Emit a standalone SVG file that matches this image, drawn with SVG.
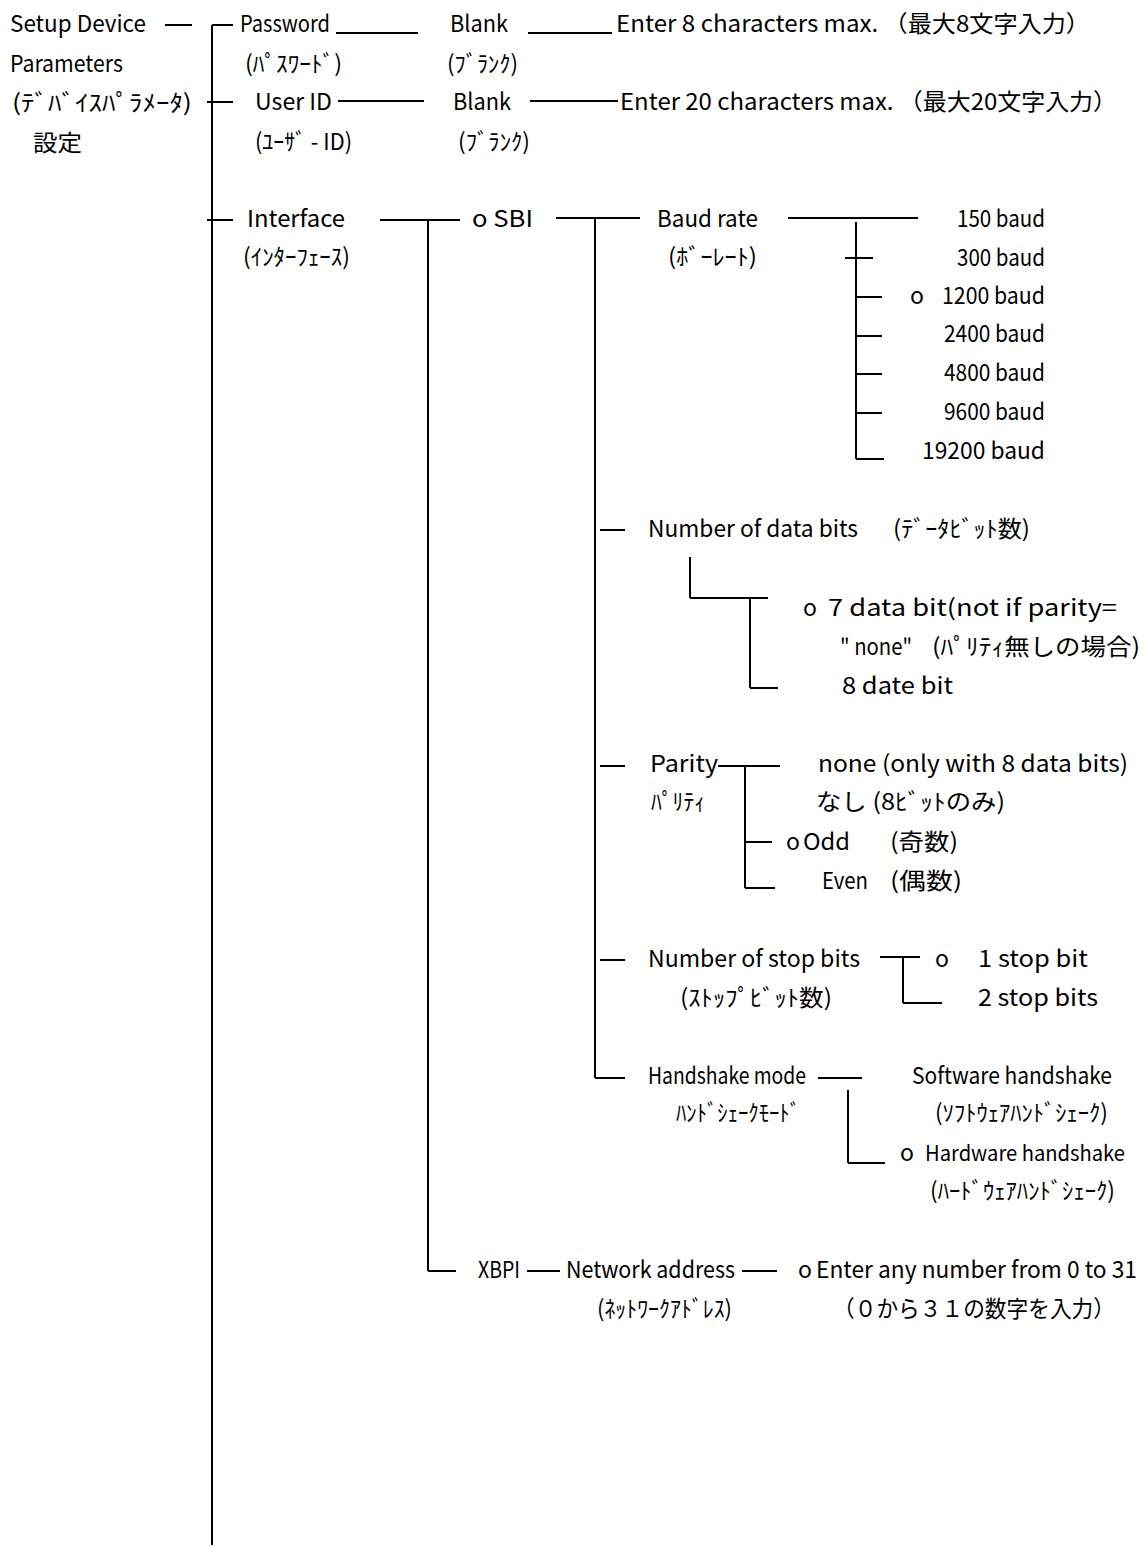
<svg xmlns="http://www.w3.org/2000/svg" width="1147" height="1546" viewBox="0 0 1147 1546">
<style>
text{font-family:"Noto Sans CJK JP","Noto Sans",sans-serif;font-size:23px;fill:#000;}
.c line{stroke:#000;stroke-width:2;fill:none;}
</style>
<rect width="1147" height="1546" fill="#fff"/>
<g id="connectors" class="c">
<line x1="212" y1="25" x2="212" y2="1545"/>
<line x1="165" y1="25" x2="192" y2="25"/>
<line x1="212" y1="25" x2="233" y2="25"/>
<line x1="336" y1="33" x2="418" y2="33"/>
<line x1="528" y1="33" x2="612" y2="33"/>
<line x1="207" y1="102" x2="233" y2="102"/>
<line x1="338" y1="101" x2="424" y2="101"/>
<line x1="530" y1="101" x2="618" y2="101"/>
<line x1="207" y1="220" x2="233" y2="220"/>
<line x1="380" y1="220" x2="460" y2="220"/>
<line x1="428" y1="220" x2="428" y2="1271"/>
<line x1="428" y1="1271" x2="456" y2="1271"/>
<line x1="556" y1="218" x2="640" y2="218"/>
<line x1="595" y1="218" x2="595" y2="1078"/>
<line x1="788" y1="218" x2="918" y2="218"/>
<line x1="856" y1="222" x2="856" y2="459"/>
<line x1="845" y1="258" x2="873" y2="258"/>
<line x1="856" y1="297" x2="882" y2="297"/>
<line x1="856" y1="336" x2="882" y2="336"/>
<line x1="856" y1="374" x2="882" y2="374"/>
<line x1="856" y1="413" x2="882" y2="413"/>
<line x1="856" y1="459" x2="884" y2="459"/>
<line x1="600" y1="530" x2="625" y2="530"/>
<line x1="690" y1="557" x2="690" y2="598"/>
<line x1="690" y1="598" x2="768" y2="598"/>
<line x1="750" y1="598" x2="750" y2="688"/>
<line x1="750" y1="688" x2="778" y2="688"/>
<line x1="600" y1="766" x2="625" y2="766"/>
<line x1="718" y1="766" x2="780" y2="766"/>
<line x1="745" y1="766" x2="745" y2="888"/>
<line x1="745" y1="842" x2="772" y2="842"/>
<line x1="745" y1="888" x2="775" y2="888"/>
<line x1="600" y1="960" x2="625" y2="960"/>
<line x1="880" y1="957" x2="920" y2="957"/>
<line x1="903" y1="957" x2="903" y2="1003"/>
<line x1="903" y1="1003" x2="942" y2="1003"/>
<line x1="595" y1="1078" x2="625" y2="1078"/>
<line x1="818" y1="1078" x2="862" y2="1078"/>
<line x1="848" y1="1090" x2="848" y2="1163"/>
<line x1="848" y1="1163" x2="885" y2="1163"/>
<line x1="527" y1="1271" x2="560" y2="1271"/>
<line x1="742" y1="1271" x2="777" y2="1271"/>
</g>
<g id="n-setup">
<text x="10" y="32" textLength="136" lengthAdjust="spacingAndGlyphs">Setup Device</text>
<text x="10" y="72" textLength="113" lengthAdjust="spacingAndGlyphs">Parameters</text>
<text x="12" y="111" textLength="180" lengthAdjust="spacingAndGlyphs">(ﾃﾞﾊﾞｲｽﾊﾟﾗﾒｰﾀ)</text>
<text x="33" y="151" textLength="49" lengthAdjust="spacingAndGlyphs">設定</text>
</g>
<g id="n-password">
<text x="240" y="32" textLength="90" lengthAdjust="spacingAndGlyphs">Password</text>
<text x="245" y="72" textLength="97" lengthAdjust="spacingAndGlyphs">(ﾊﾟｽﾜｰﾄﾞ)</text>
</g>
<g id="n-pw-blank">
<text x="450" y="32" textLength="58" lengthAdjust="spacingAndGlyphs">Blank</text>
<text x="447" y="72" textLength="71" lengthAdjust="spacingAndGlyphs">(ﾌﾞﾗﾝｸ)</text>
</g>
<g id="n-pw-enter">
<text x="616" y="32" textLength="474" lengthAdjust="spacingAndGlyphs">Enter 8  characters max. （最大8文字入力）</text>
</g>
<g id="n-userid">
<text x="255" y="110" textLength="77" lengthAdjust="spacingAndGlyphs">User ID</text>
<text x="255" y="150" textLength="97" lengthAdjust="spacingAndGlyphs">(ﾕｰｻﾞ - ID)</text>
</g>
<g id="n-uid-blank">
<text x="453" y="110" textLength="58" lengthAdjust="spacingAndGlyphs">Blank</text>
<text x="458" y="150" textLength="72" lengthAdjust="spacingAndGlyphs">(ﾌﾞﾗﾝｸ)</text>
</g>
<g id="n-uid-enter">
<text x="620" y="110" textLength="497" lengthAdjust="spacingAndGlyphs">Enter 20  characters max. （最大20文字入力）</text>
</g>
<g id="n-interface">
<text x="247" y="227" textLength="98" lengthAdjust="spacingAndGlyphs">Interface</text>
<text x="243" y="265" textLength="107" lengthAdjust="spacingAndGlyphs">(ｲﾝﾀｰﾌｪｰｽ)</text>
</g>
<g id="n-sbi">
<text x="472" y="227" textLength="61" lengthAdjust="spacingAndGlyphs">o  SBI</text>
</g>
<g id="n-baud">
<text x="657" y="227" textLength="101" lengthAdjust="spacingAndGlyphs">Baud rate</text>
<text x="668" y="265" textLength="89" lengthAdjust="spacingAndGlyphs">(ﾎﾞｰﾚｰﾄ)</text>
</g>
<g id="n-b150"><text x="957" y="227" textLength="88" lengthAdjust="spacingAndGlyphs">150 baud</text></g>
<g id="n-b300"><text x="957" y="266" textLength="88" lengthAdjust="spacingAndGlyphs">300 baud</text></g>
<g id="n-b1200"><text x="910" y="304" textLength="14" lengthAdjust="spacingAndGlyphs">o</text><text x="942" y="304" textLength="103" lengthAdjust="spacingAndGlyphs">1200 baud</text></g>
<g id="n-b2400"><text x="944" y="342" textLength="101" lengthAdjust="spacingAndGlyphs">2400 baud</text></g>
<g id="n-b4800"><text x="944" y="381" textLength="101" lengthAdjust="spacingAndGlyphs">4800 baud</text></g>
<g id="n-b9600"><text x="944" y="420" textLength="101" lengthAdjust="spacingAndGlyphs">9600 baud</text></g>
<g id="n-b19200"><text x="922" y="459" textLength="123" lengthAdjust="spacingAndGlyphs">19200 baud</text></g>
<g id="n-databits">
<text x="648" y="537" textLength="210" lengthAdjust="spacingAndGlyphs">Number of data bits</text>
<text x="893" y="537" textLength="137" lengthAdjust="spacingAndGlyphs">(ﾃﾞｰﾀﾋﾞｯﾄ数)</text>
</g>
<g id="n-7bit">
<text x="803" y="616" textLength="14" lengthAdjust="spacingAndGlyphs">o</text>
<text x="828" y="616" textLength="289" lengthAdjust="spacingAndGlyphs">7 data bit(not if parity=</text>
<text x="840" y="655" textLength="72" lengthAdjust="spacingAndGlyphs">" none"</text>
<text x="932" y="655" textLength="208" lengthAdjust="spacingAndGlyphs">(ﾊﾟﾘﾃｨ無しの場合)</text>
</g>
<g id="n-8bit">
<text x="842" y="694" textLength="111" lengthAdjust="spacingAndGlyphs">8 date bit</text>
</g>
<g id="n-parity">
<text x="650" y="772" textLength="68" lengthAdjust="spacingAndGlyphs">Parity</text>
<text x="651" y="810" textLength="54" lengthAdjust="spacingAndGlyphs">ﾊﾟﾘﾃｨ</text>
</g>
<g id="n-p-none">
<text x="818" y="772" textLength="310" lengthAdjust="spacingAndGlyphs">none (only with 8 data bits)</text>
<text x="816" y="810" textLength="189" lengthAdjust="spacingAndGlyphs">なし (8ﾋﾞｯﾄのみ)</text>
</g>
<g id="n-p-odd">
<text x="786" y="850" textLength="14" lengthAdjust="spacingAndGlyphs">o</text>
<text x="803" y="850" textLength="47" lengthAdjust="spacingAndGlyphs">Odd</text>
<text x="890" y="850" textLength="68" lengthAdjust="spacingAndGlyphs">(奇数)</text>
</g>
<g id="n-p-even">
<text x="822" y="889" textLength="46" lengthAdjust="spacingAndGlyphs">Even</text>
<text x="890" y="889" textLength="72" lengthAdjust="spacingAndGlyphs">(偶数)</text>
</g>
<g id="n-stopbits">
<text x="648" y="967" textLength="212" lengthAdjust="spacingAndGlyphs">Number of stop bits</text>
<text x="680" y="1006" textLength="152" lengthAdjust="spacingAndGlyphs">(ｽﾄｯﾌﾟﾋﾞｯﾄ数)</text>
</g>
<g id="n-1stop">
<text x="935" y="967" textLength="14" lengthAdjust="spacingAndGlyphs">o</text>
<text x="978" y="967" textLength="110" lengthAdjust="spacingAndGlyphs">1 stop bit</text>
</g>
<g id="n-2stop">
<text x="978" y="1006" textLength="120" lengthAdjust="spacingAndGlyphs">2 stop bits</text>
</g>
<g id="n-handshake">
<text x="648" y="1084" textLength="158" lengthAdjust="spacingAndGlyphs">Handshake mode</text>
<text x="676" y="1121" textLength="124" lengthAdjust="spacingAndGlyphs">ﾊﾝﾄﾞｼｪｰｸﾓｰﾄﾞ</text>
</g>
<g id="n-software">
<text x="912" y="1084" textLength="200" lengthAdjust="spacingAndGlyphs">Software handshake</text>
<text x="935" y="1121" textLength="173" lengthAdjust="spacingAndGlyphs">(ｿﾌﾄｳｪｱﾊﾝﾄﾞｼｪｰｸ)</text>
</g>
<g id="n-hardware">
<text x="900" y="1161" textLength="14" lengthAdjust="spacingAndGlyphs">o</text>
<text x="925" y="1161" style="font-size:21px" textLength="200" lengthAdjust="spacingAndGlyphs">Hardware handshake</text>
<text x="930" y="1199" textLength="185" lengthAdjust="spacingAndGlyphs">(ﾊｰﾄﾞｳｪｱﾊﾝﾄﾞｼｪｰｸ)</text>
</g>
<g id="n-xbpi">
<text x="478" y="1278" textLength="42" lengthAdjust="spacingAndGlyphs">XBPI</text>
</g>
<g id="n-netaddr">
<text x="566" y="1278" textLength="169" lengthAdjust="spacingAndGlyphs">Network address</text>
<text x="597" y="1317" textLength="135" lengthAdjust="spacingAndGlyphs">(ﾈｯﾄﾜｰｸｱﾄﾞﾚｽ)</text>
</g>
<g id="n-enterany">
<text x="798" y="1278" textLength="14" lengthAdjust="spacingAndGlyphs">o</text>
<text x="816" y="1278" textLength="321" lengthAdjust="spacingAndGlyphs">Enter any number from 0 to 31</text>
<text x="833" y="1317" textLength="282" lengthAdjust="spacingAndGlyphs">（０から３１の数字を入力）</text>
</g>
</svg>
